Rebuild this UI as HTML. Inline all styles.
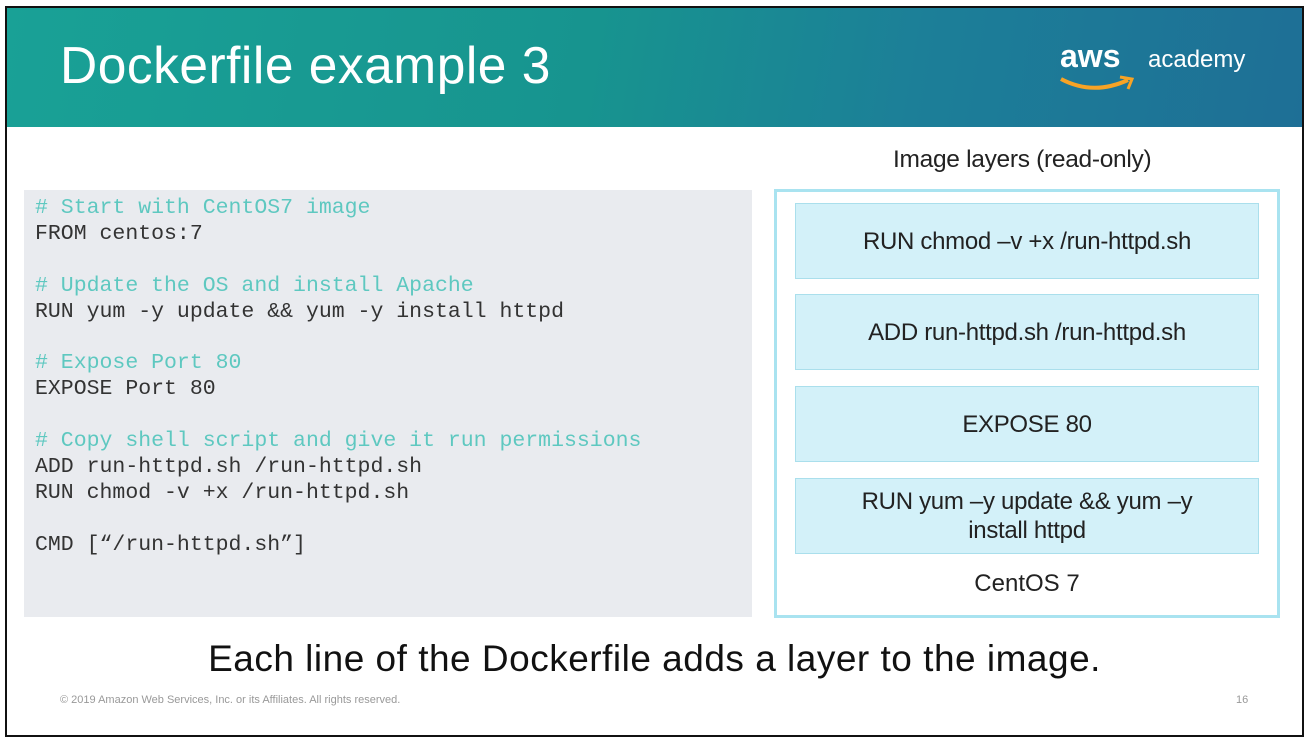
<!DOCTYPE html>
<html><head><style>
body{margin:0;width:1309px;height:742px;background:#fff;position:relative;overflow:hidden;font-family:"Liberation Sans",sans-serif}
.frame{position:absolute;left:5px;top:6px;width:1295px;height:727px;border:2px solid #111}
.hdr{position:absolute;left:7px;top:8px;width:1295px;height:119px;background:linear-gradient(100deg,#19a196 0%,#17948f 45%,#1c7f98 70%,#1e6f96 100%)}
.title{position:absolute;left:60px;top:35px;color:#fff;font-size:51.5px;letter-spacing:0.5px}
.aws{position:absolute;left:1060px;top:38px;color:#fff;font-size:32px;font-weight:bold}
.acad{position:absolute;left:1148px;top:46px;color:#fff;font-size:24px}
.code{position:absolute;left:24px;top:190px;width:728px;height:427px;background:#e9ebef}
.code pre{margin:0;position:absolute;left:11px;top:6px;font-family:"Liberation Mono",monospace;font-size:21.5px;line-height:25.9px;color:#333}
.c{color:#5ec8c0}
.lbl{position:absolute;left:893px;top:146px;font-size:24.5px;color:#222;letter-spacing:-0.3px}
.box{position:absolute;left:774px;top:189px;width:500px;height:423px;border:3px solid #a9e3f0}
.ly{position:absolute;left:795px;width:462px;height:74px;background:#d3f1f9;border:1px solid #aadfec;display:flex;align-items:center;justify-content:center;text-align:center;font-size:24px;color:#222;line-height:29px;letter-spacing:-0.3px}
.cent{position:absolute;left:795px;width:464px;top:570px;text-align:center;font-size:24px;color:#222}
.bot{position:absolute;left:0;width:1309px;top:638px;text-align:center;font-size:37px;color:#111;letter-spacing:0.5px}
.foot{position:absolute;left:60px;top:694px;font-size:11px;color:#999}
.pg{position:absolute;left:1236px;top:694px;font-size:11px;color:#999}
</style></head><body>
<div class="hdr"></div>
<div class="title">Dockerfile example 3</div>
<div class="aws">aws</div>
<svg style="position:absolute;left:1058px;top:74px" width="80" height="20"><path d="M3 5 Q35 22 70 6" stroke="#f7a325" stroke-width="4" fill="none"/><path d="M62 3 L74 5 L70 15" stroke="#f7a325" stroke-width="3" fill="none"/></svg>
<div class="acad">academy</div>
<div class="code"><pre><span class="c"># Start with CentOS7 image</span>
FROM centos:7

<span class="c"># Update the OS and install Apache</span>
RUN yum -y update &amp;&amp; yum -y install httpd

<span class="c"># Expose Port 80</span>
EXPOSE Port 80

<span class="c"># Copy shell script and give it run permissions</span>
ADD run-httpd.sh /run-httpd.sh
RUN chmod -v +x /run-httpd.sh

CMD [“/run-httpd.sh”]</pre></div>
<div class="lbl">Image layers (read-only)</div>
<div class="box"></div>
<div class="ly" style="top:203px">RUN chmod –v +x /run-httpd.sh</div>
<div class="ly" style="top:294px">ADD run-httpd.sh /run-httpd.sh</div>
<div class="ly" style="top:386px">EXPOSE 80</div>
<div class="ly" style="top:478px">RUN yum –y update &amp;&amp; yum –y<br>install httpd</div>
<div class="cent">CentOS 7</div>
<div class="bot">Each line of the Dockerfile adds a layer to the image.</div>
<div class="foot">© 2019 Amazon Web Services, Inc. or its Affiliates. All rights reserved.</div>
<div class="pg">16</div>
<div class="frame"></div>
</body></html>
